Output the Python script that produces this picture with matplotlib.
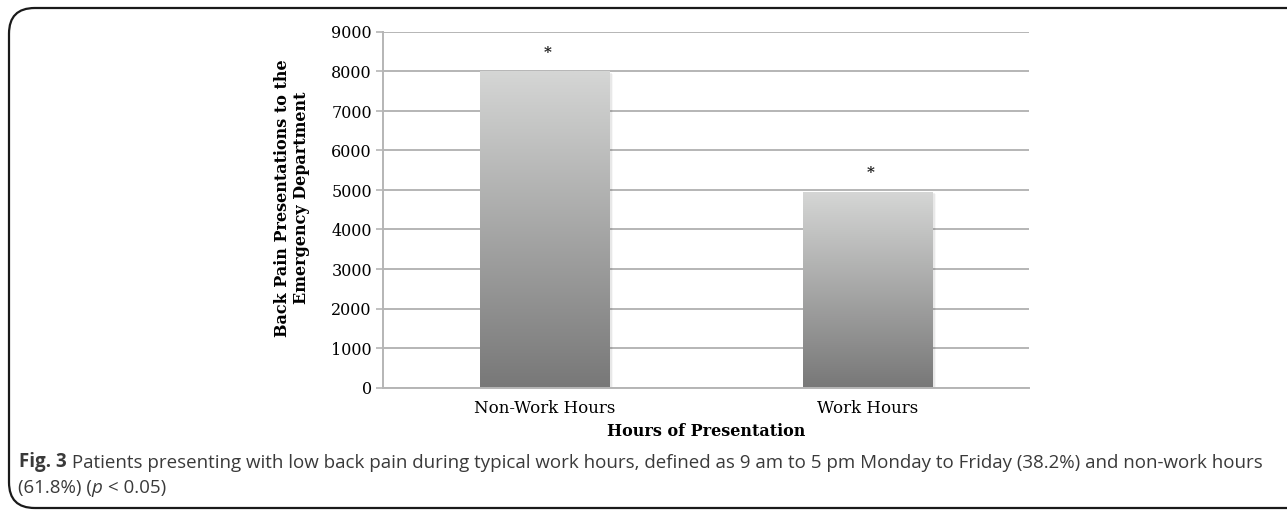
import numpy as np
import matplotlib.pyplot as plt
from matplotlib.patches import FancyBboxPatch, Rectangle

# data
categories = ['Non-Work Hours', 'Work Hours']
presentations = [7980, 4935]
markers = ['*', '*']
yticks = [0, 1000, 2000, 3000, 4000, 5000, 6000, 7000, 8000, 9000]

W, H = 1287, 511
fig = plt.figure(figsize=(W / 100, H / 100), dpi=100)

# rounded frame round the whole figure (cut off on the right, like the scan)
frame = FancyBboxPatch((9 / W, 3 / H), 1.2, (H - 11) / H,
                       boxstyle='round,pad=0,rounding_size=0.02',
                       transform=fig.transFigure, fill=False,
                       edgecolor='#1a1a1a', linewidth=1.6, mutation_aspect=W / H)
fig.patches.append(frame)

ax = fig.add_axes([383 / W, 123.5 / H, 646 / W, 355.5 / H])
grid_col = '#b5b5b5'

x = np.arange(len(categories))
bar_w = 0.4
bars = ax.bar(x, presentations, width=bar_w, color='none', edgecolor='none', zorder=3)

# vertical grey gradient inside each bar, plus a soft shadow on the right side
grad = np.linspace(0, 1, 256).reshape(-1, 1)
cmap = plt.matplotlib.colors.LinearSegmentedColormap.from_list('g', ['#787878', '#d5d6d5'])
for b in bars:
    x0, w, h = b.get_x(), b.get_width(), b.get_height()
    for k, a in enumerate([0.10, 0.06, 0.03]):
        ax.add_patch(Rectangle((x0 + 0.004 * (k + 1), 0), w, h - 20 * k,
                               facecolor='black', alpha=a, edgecolor='none', zorder=2.5))
    ax.imshow(grad, extent=(x0, x0 + w, 0, h), origin='lower', cmap=cmap,
              aspect='auto', zorder=3, interpolation='bilinear')

for xi, v, m in zip(x, presentations, markers):
    ax.annotate(m, (xi, v), xytext=(2, 14), textcoords='offset points',
                ha='center', va='center', fontsize=11, family='DejaVu Serif',
                fontweight='bold', color='#1a1a1a')

ax.set_xlim(-0.5, 1.5)
ax.set_ylim(0, 9000)
ax.set_yticks(yticks)
ax.set_yticklabels([str(t) for t in yticks], family='DejaVu Serif', fontsize=11.5)
ax.set_xticks(x)
ax.set_xticklabels(categories, family='DejaVu Serif', fontsize=12)
ax.tick_params(axis='x', length=0, pad=9)
ax.tick_params(axis='y', length=5, width=1.2, color=grid_col, pad=3)
ax.grid(axis='y', color=grid_col, linewidth=1.4, zorder=1)
ax.set_axisbelow(True)
for s in ['top', 'right']:
    ax.spines[s].set_visible(False)
ax.spines['left'].set_color(grid_col)
ax.spines['bottom'].set_color(grid_col)
ax.spines['left'].set_linewidth(1.4)
ax.spines['bottom'].set_linewidth(1.4)

fig.text(292 / W, 1 - 198 / H, 'Back Pain Presentations to the\nEmergency Department',
         rotation=90, ha='center', va='center', multialignment='center',
         family='DejaVu Serif', fontweight='bold', fontsize=11.5, linespacing=1.2)
fig.text(706 / W, 1 - 432 / H, 'Hours of Presentation', ha='center', va='center',
         family='DejaVu Serif', fontweight='bold', fontsize=11.5)

# caption below the chart, pieces chained one after the other
cap = dict(family='Open Sans', fontsize=13.5, color='#3a3a3a')
t1 = fig.text(19 / W, 1 - 467 / H, 'Fig. 3', ha='left', va='baseline',
              fontweight='bold', **cap)
ax.annotate(' Patients presenting with low back pain during typical work hours, defined as 9 am to 5 pm Monday to Friday (38.2%) and non-work hours',
            xy=(1, 0), xycoords=t1, va='bottom', ha='left', annotation_clip=False, **cap)
t2a = fig.text(18 / W, 1 - 493 / H, '(61.8%) (', ha='left', va='baseline', **cap)
t2b = ax.annotate('p', xy=(1, 0), xycoords=t2a, va='bottom', ha='left',
                  fontstyle='italic', annotation_clip=False, **cap)
ax.annotate(' < 0.05)', xy=(1, 0), xycoords=t2b, va='bottom', ha='left',
            annotation_clip=False, **cap)

fig.savefig('out.png', dpi=100)
